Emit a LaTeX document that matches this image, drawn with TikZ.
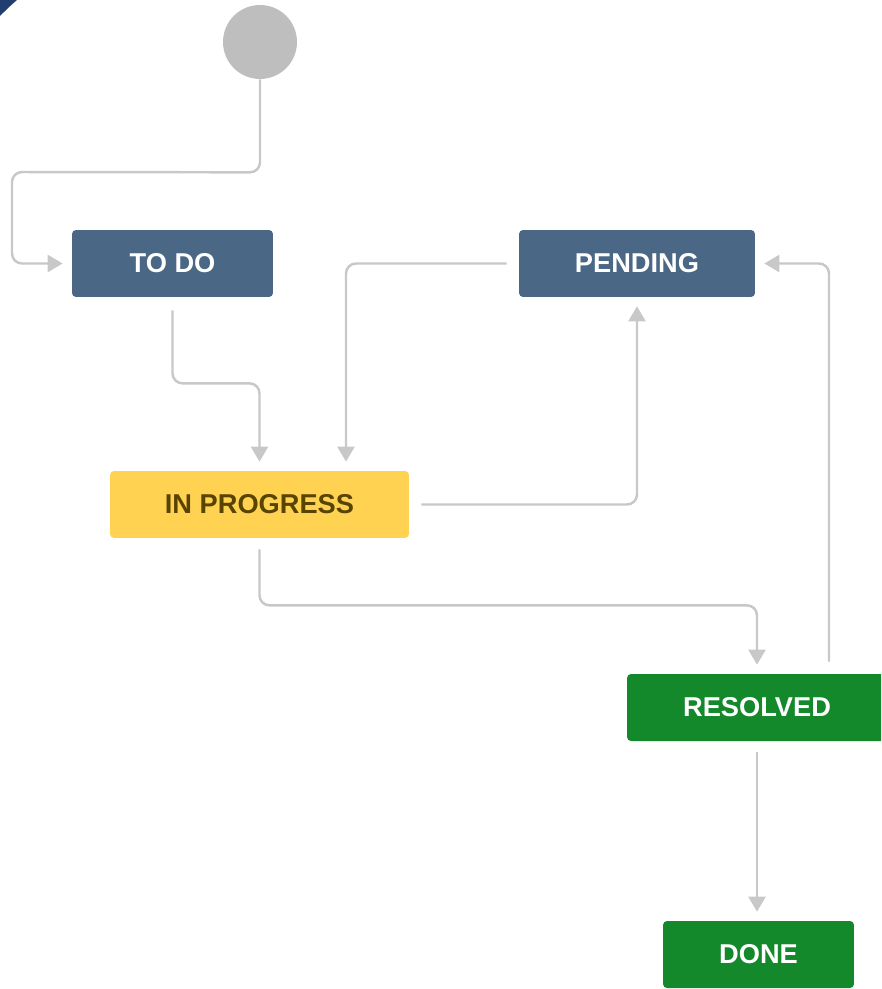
\documentclass[tikz,border=0pt]{standalone}
\usepackage{fontspec}
\setmainfont{Liberation Sans}
\usetikzlibrary{arrows.meta,calc}

\definecolor{statusblue}{HTML}{4A6785}
\definecolor{statusyellow}{HTML}{FFD351}
\definecolor{statusbrown}{HTML}{594300}
\definecolor{statusgreen}{HTML}{14892C}
\definecolor{linegray}{HTML}{C8C8C8}
\definecolor{startgray}{HTML}{BEBEBE}
\definecolor{cornerblue}{HTML}{213E70}

\tikzset{
    status/.style={rectangle, rounded corners=0.08cm, inner sep=0pt,
        minimum height=1.34cm, font=\fontsize{15.5}{18}\selectfont\bfseries},
    flow/.style={draw=linegray, line width=1.4pt, rounded corners=0.2cm,
        -{Triangle[width=0.34cm, length=0.3cm]}, shorten >=0.18cm}
}

\begin{document}
\begin{tikzpicture}[x=0.02cm, y=-0.02cm]
    \useasboundingbox (0,0) rectangle (881,989);
    \clip (0,0) rectangle (881,989);

    % Corner
    \fill[cornerblue] (0,0) -- (17,0) .. controls (9,7) .. (0,16) -- cycle;

    % Nodes
    \node[circle, fill=startgray, minimum size=1.48cm, inner sep=0pt] (start) at (260,42) {};
    \node[status, fill=statusblue, text=white, minimum width=4.02cm] (todo) at (172.5,263.5) {TO DO};
    \node[status, fill=statusblue, text=white, minimum width=4.72cm] (pending) at (637,263.5) {PENDING};
    \node[status, fill=statusyellow, text=statusbrown, minimum width=5.98cm] (inprog) at (259.5,504.5) {IN PROGRESS};
    \node[status, fill=statusgreen, text=white, minimum width=5.2cm] (resolved) at (757,707.5) {RESOLVED};
    \node[status, fill=statusgreen, text=white, minimum width=3.82cm] (done) at (758.5,954.5) {DONE};

    % Transitions
    \draw[flow] (start.south) -- ++(0,93) -- (12,172) |- (todo.west);
    \draw[flow, shorten <=0.26cm] (todo.south) -- ++(0,86) -| (inprog.north);
    \draw[flow, shorten <=0.24cm] (pending.west) -| ($(inprog.north)+(86.5,0)$);
    \draw[flow, shorten <=0.24cm] (inprog.east) -| (pending.south);
    \draw[flow, shorten <=0.22cm] (inprog.south) -- ++(0,67) -| (resolved.north);
    \draw[flow, shorten <=0.24cm] ($(resolved.north)+(72,0)$) |- (pending.east);
    \draw[flow, shorten <=0.22cm] (resolved.south) -- (resolved.south |- done.north);
\end{tikzpicture}
\end{document}
